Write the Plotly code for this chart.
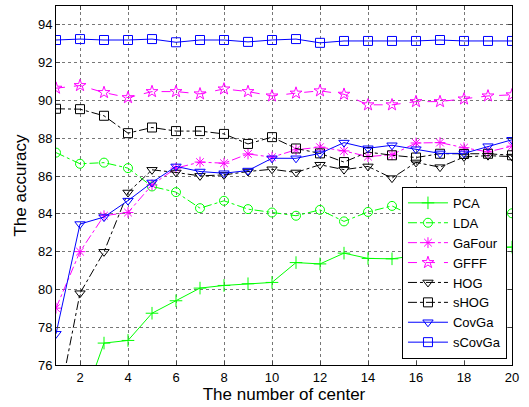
import plotly.graph_objects as go

centers = list(range(1, 21))

pca = [70.5, 73.6, 77.16, 77.3, 78.74, 79.4, 80.07, 80.21, 80.3, 80.37,
       81.42, 81.35, 81.92, 81.64, 81.62, 81.8, 81.95, 82.05, 82.2, 82.24]
lda = [87.24, 86.65, 86.71, 86.42, 85.45, 85.15, 84.3, 84.69, 84.25, 84.07,
       83.9, 84.21, 83.6, 84.1, 84.42, 83.8, 84.0, 83.96, 83.91, 84.03]
gafour = [79.01, 82.0, 83.9, 84.07, 85.53, 86.42, 86.74, 86.68, 87.17, 87.0,
          87.39, 87.53, 87.33, 87.03, 87.13, 87.75, 87.77, 87.5, 87.28, 87.58]
gfff = [90.65, 90.79, 90.42, 90.15, 90.47, 90.47, 90.35, 90.61, 90.47, 90.24,
        90.39, 90.51, 90.33, 89.77, 89.77, 89.94, 89.94, 90.08, 90.24, 90.3]
hog = [73.3, 79.8, 81.99, 85.13, 86.33, 86.19, 86.01, 86.06, 86.24, 86.36,
       86.19, 86.6, 86.34, 86.51, 85.89, 86.72, 86.47, 87.01, 87.08, 87.03]
shog = [89.56, 89.54, 89.19, 88.27, 88.57, 88.38, 88.38, 88.23, 87.7, 88.06,
        87.46, 87.2, 86.74, 87.27, 87.1, 86.98, 87.18, 87.17, 87.18, 87.1]
covga = [77.65, 83.46, 83.83, 84.7, 85.66, 86.51, 86.24, 86.15, 86.29, 86.94,
         86.94, 87.2, 87.77, 87.47, 87.63, 87.42, 87.2, 87.2, 87.58, 87.92]
scovga = [93.2, 93.25, 93.2, 93.2, 93.25, 93.08, 93.2, 93.2, 93.1, 93.2,
          93.25, 93.05, 93.15, 93.15, 93.15, 93.15, 93.2, 93.15, 93.15, 93.15]

x_ticks = list(range(2, 21, 2))
y_ticks = list(range(76, 95, 2))

series = [
    ("PCA", pca, "#00ff00", "solid", "cross-thin-open"),
    ("LDA", lda, "#00ff00", "dashdot", "circle-open"),
    ("GaFour", gafour, "#ff00ff", "dashdot", "asterisk-open"),
    ("GFFF", gfff, "#ff00ff", "dash", "star-open"),
    ("HOG", hog, "#000000", "dashdot", "triangle-down-open"),
    ("sHOG", shog, "#000000", "dashdot", "square-open"),
    ("CovGa", covga, "#0000ff", "solid", "triangle-down-open"),
    ("sCovGa", scovga, "#0000ff", "solid", "square-open"),
]

fig = go.Figure()
for name, vals, color, dash, sym in series:
    fig.add_trace(go.Scatter(
        x=centers, y=vals, name=name, mode="lines+markers",
        line=dict(color=color, width=1, dash=dash),
        marker=dict(symbol=sym, size=9, color=color,
                    line=dict(color=color, width=1)),
        cliponaxis=True,
    ))

fig.update_layout(
    width=529, height=407,
    margin=dict(l=56, r=17, t=6, b=42, autoexpand=False),
    paper_bgcolor="white", plot_bgcolor="white",
    font=dict(family="Liberation Sans, Arial, sans-serif", size=13, color="black"),
    showlegend=True,
    legend=dict(
        x=0.989, y=0.017, xanchor="right", yanchor="bottom",
        bgcolor="white", bordercolor="black", borderwidth=1,
        font=dict(size=13), tracegroupgap=0, itemwidth=40,
    ),
)
fig.update_xaxes(
    range=[1, 20], tickvals=x_ticks, ticks="inside", ticklen=4,
    showline=True, linecolor="black", linewidth=1, mirror="ticks",
    showgrid=True, gridcolor="#777777", griddash="dot", gridwidth=1,
    zeroline=False, automargin=False,
    title=dict(text="The number of center", font=dict(size=17), standoff=4),
)
fig.update_yaxes(
    range=[76, 95], tickvals=y_ticks, ticks="inside", ticklen=4,
    showline=True, linecolor="black", linewidth=1, mirror="ticks",
    showgrid=True, gridcolor="#777777", griddash="dot", gridwidth=1,
    zeroline=False, automargin=False,
    title=dict(text="The accuracy", font=dict(size=17), standoff=6),
)

fig.write_html(
    "out.html",
    config={"displayModeBar": False},
    post_script="document.body.style.margin='0';document.body.style.padding='0';",
)
